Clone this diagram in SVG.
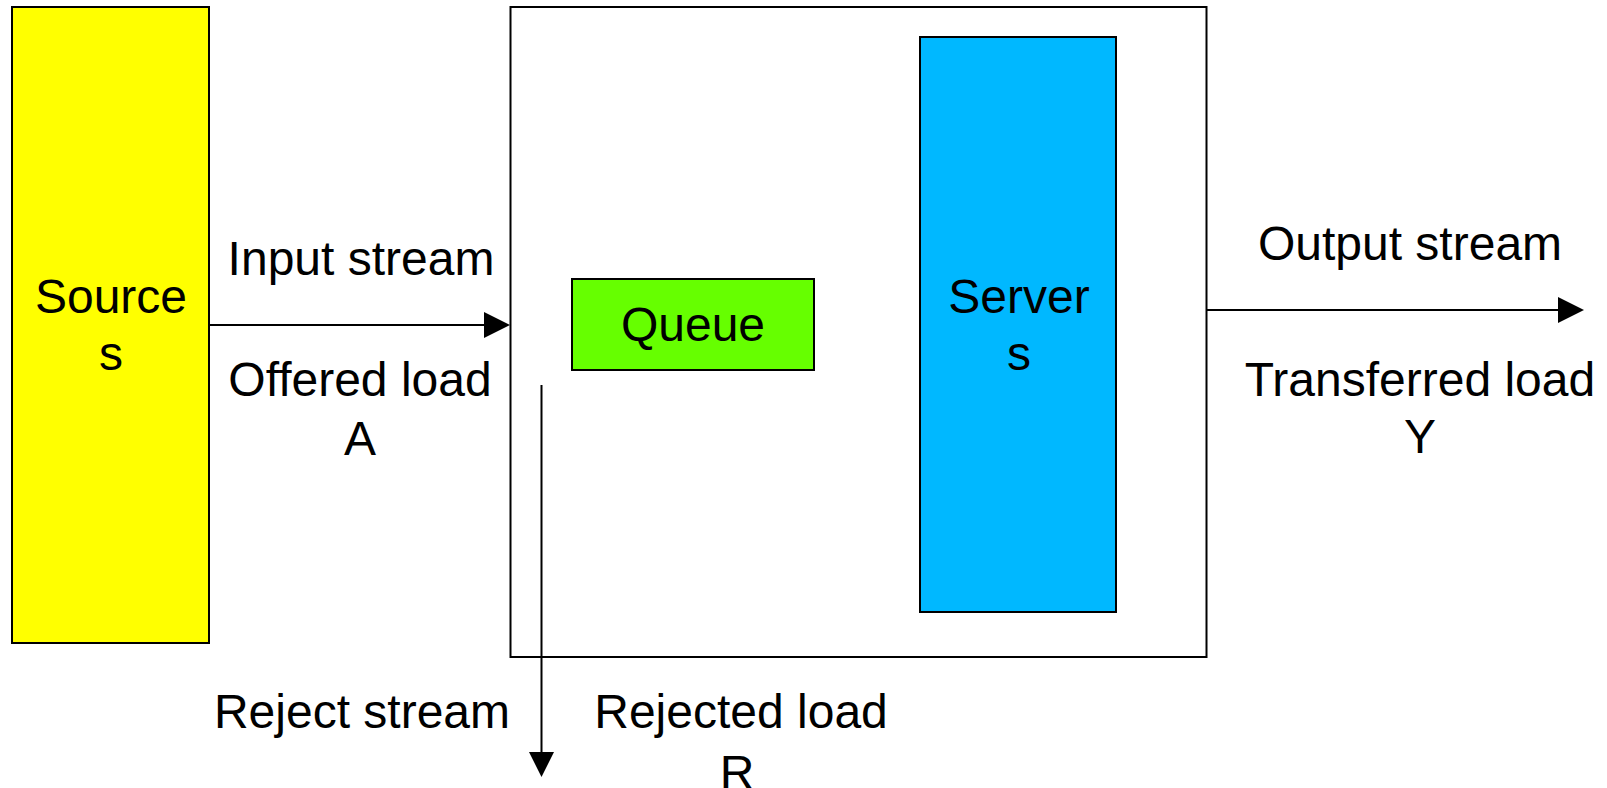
<svg xmlns="http://www.w3.org/2000/svg" width="1607" height="788" viewBox="0 0 1607 788">
  <style>
    .box { stroke: #000; stroke-width: 2; }
    .lbl { font-family: "Liberation Sans", Arial, sans-serif; font-size: 48px; fill: #000; text-anchor: middle; }
    .wire { stroke: #000; stroke-width: 2; fill: none; }
    .head { fill: #000; }
  </style>
  <rect width="1607" height="788" fill="#fff"/>

  <!-- traffic source -->
  <g id="source">
    <rect class="box" x="12" y="7" width="197" height="636" fill="#ffff00"/>
    <text class="lbl" x="111" y="313">Source</text>
    <text class="lbl" x="111" y="370">s</text>
  </g>

  <!-- system boundary -->
  <g id="system">
    <rect class="box" x="510.5" y="7" width="696" height="650" fill="#fff"/>
  </g>

  <g id="queue">
    <rect class="box" x="572" y="279" width="242" height="91" fill="#66ff00"/>
    <text class="lbl" x="693" y="341">Queue</text>
  </g>

  <g id="servers">
    <rect class="box" x="920" y="37" width="196" height="575" fill="#00b8ff"/>
    <text class="lbl" x="1019" y="313">Server</text>
    <text class="lbl" x="1019" y="370">s</text>
  </g>

  <!-- streams -->
  <g id="connectors">
    <line class="wire" x1="209" y1="325" x2="485" y2="325"/>
    <polygon class="head" points="484,312 510,325 484,338"/>
    <line class="wire" x1="1207" y1="310" x2="1559" y2="310"/>
    <polygon class="head" points="1558,297 1584,310 1558,323"/>
    <line class="wire" x1="541.5" y1="385" x2="541.5" y2="753"/>
    <polygon class="head" points="529,752 554,752 541.5,777"/>
  </g>

  <!-- stream labels -->
  <g id="labels">
    <text class="lbl" x="361" y="275">Input stream</text>
    <text class="lbl" x="360" y="396">Offered load</text>
    <text class="lbl" x="360" y="455">A</text>
    <text class="lbl" x="1410" y="260">Output stream</text>
    <text class="lbl" x="1420" y="396">Transferred load</text>
    <text class="lbl" x="1420" y="453">Y</text>
    <text class="lbl" x="362" y="728">Reject stream</text>
    <text class="lbl" x="741" y="728">Rejected load</text>
    <text class="lbl" x="737" y="789">R</text>
  </g>
</svg>
